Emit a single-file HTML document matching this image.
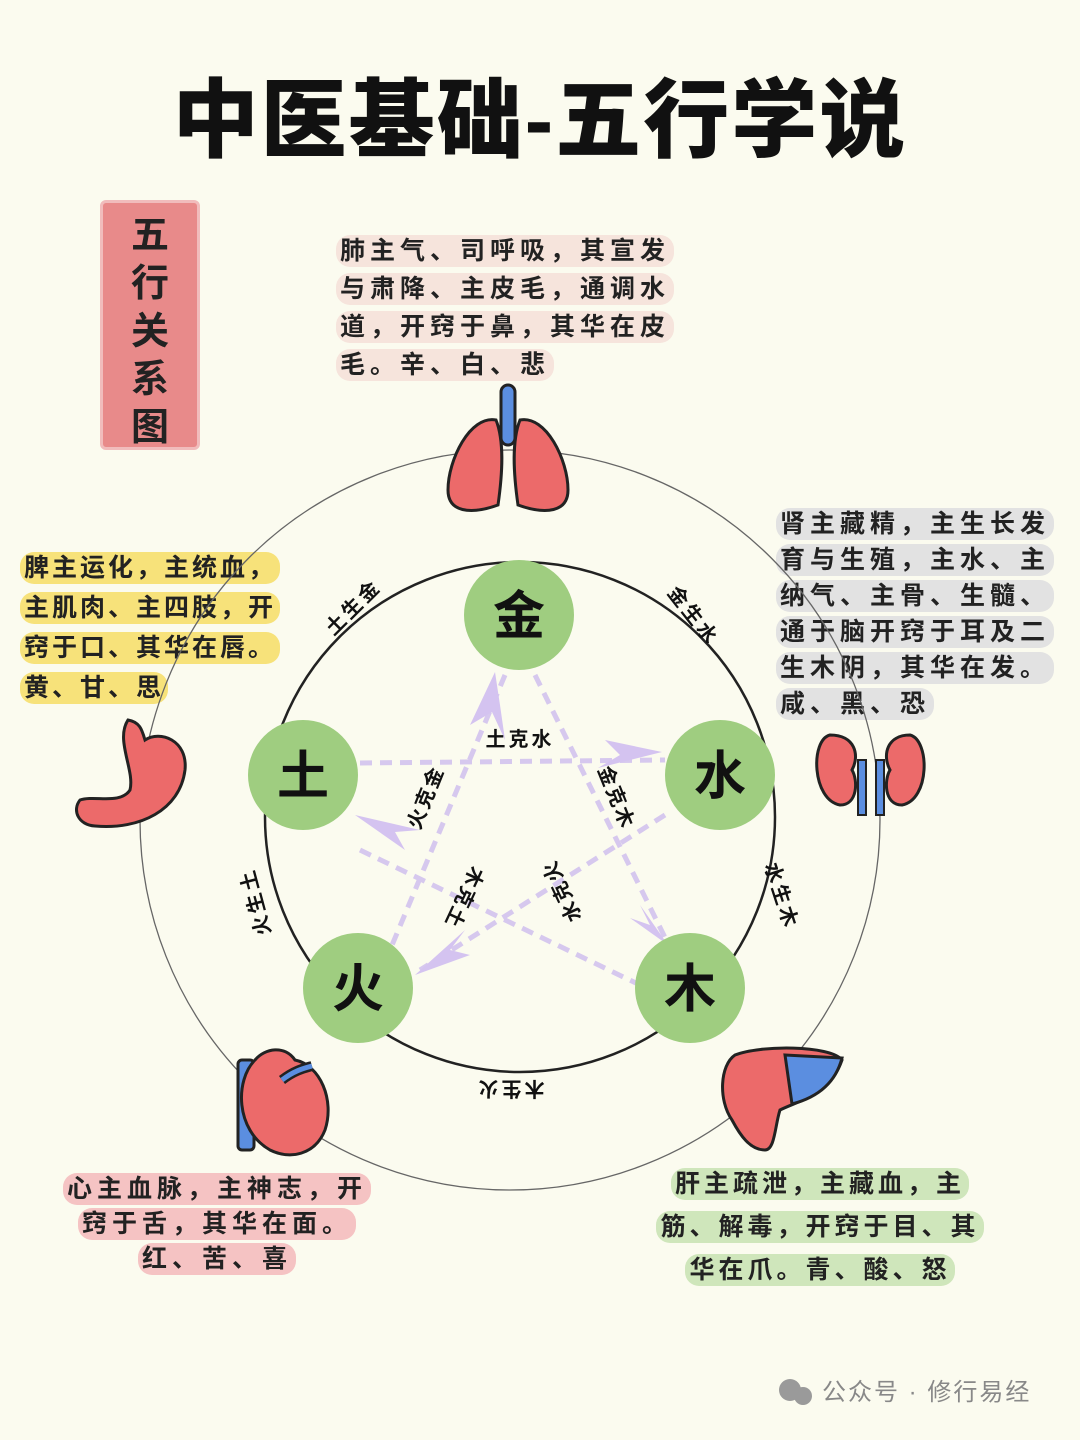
<!DOCTYPE html>
<html><head><meta charset="utf-8"><style>
body{margin:0;width:1080px;height:1440px;background:#fbfbef;overflow:hidden;font-family:"Liberation Sans","Noto Sans CJK SC",sans-serif;position:relative}
.t{position:absolute;font-size:25px;letter-spacing:5px;color:#222;font-weight:bold;white-space:nowrap}
.t span{padding:2px 4px;border-radius:14px}
.title{position:absolute;left:0;width:1080px;top:50px;text-align:center;font-size:86px;font-weight:900;color:#111;letter-spacing:2px}
</style></head><body>
<div class="title">中医基础-五行学说</div>
<div style="position:absolute;left:100px;top:200px;width:100px;height:250px;background:#e88a8a;border:3px solid #f1bcbc;box-sizing:border-box;border-radius:6px"></div>
<div style="position:absolute;left:122px;top:212px;width:56px;font-size:38px;line-height:48px;text-align:center;font-weight:bold;color:#222">五<br>行<br>关<br>系<br>图</div>

<div class="t" style="left:336px;top:232px;line-height:38px"><span style="background:#f6e4dc">肺主气、司呼吸，其宣发</span><br><span style="background:#f6e4dc">与肃降、主皮毛，通调水</span><br><span style="background:#f6e4dc">道，开窍于鼻，其华在皮</span><br><span style="background:#f6e4dc">毛。辛、白、悲</span></div>
<div class="t" style="left:776px;top:506px;line-height:36px"><span style="background:#e2e2e2">肾主藏精，主生长发</span><br><span style="background:#e2e2e2">育与生殖，主水、主</span><br><span style="background:#e2e2e2">纳气、主骨、生髓、</span><br><span style="background:#e2e2e2">通于脑开窍于耳及二</span><br><span style="background:#e2e2e2">生木阴，其华在发。</span><br><span style="background:#e2e2e2">咸、黑、恐</span></div>
<div class="t" style="left:20px;top:548px;line-height:40px;letter-spacing:3px"><span style="background:#f7e27a">脾主运化，主统血，</span><br><span style="background:#f7e27a">主肌肉、主四肢，开</span><br><span style="background:#f7e27a">窍于口、其华在唇。</span><br><span style="background:#f7e27a">黄、甘、思</span></div>
<div class="t" style="left:52px;top:1172px;width:330px;text-align:center;line-height:35px"><span style="background:#f5c3c3">心主血脉，主神志，开</span><br><span style="background:#f5c3c3">窍于舌，其华在面。</span><br><span style="background:#f5c3c3">红、苦、喜</span></div>
<div class="t" style="left:620px;top:1163px;width:400px;text-align:center;line-height:43px;letter-spacing:4px"><span style="background:#cfe6bb">肝主疏泄，主藏血，主</span><br><span style="background:#cfe6bb">筋、解毒，开窍于目、其</span><br><span style="background:#cfe6bb">华在爪。青、酸、怒</span></div>

<svg width="1080" height="1440" style="position:absolute;left:0;top:0" font-family="Liberation Sans, Noto Sans CJK SC, sans-serif">
<circle cx="510" cy="820" r="370" fill="none" stroke="#666" stroke-width="1.3"/>
<circle cx="520" cy="817" r="255" fill="none" stroke="#222" stroke-width="2.5"/>
<g stroke="#d6c8ee" stroke-width="5" stroke-dasharray="12 8" fill="none">
<line x1="535" y1="675" x2="690" y2="988"/>
<line x1="505" y1="675" x2="390" y2="950"/>
<line x1="360" y1="763" x2="665" y2="760"/>
<line x1="360" y1="850" x2="640" y2="985"/>
<line x1="665" y1="815" x2="420" y2="970"/>
</g>
<g fill="#d4c3f0">
<polygon points="495,672 470,725 492,712 505,740 500,705"/>
<polygon points="662,752 605,740 620,755 598,768"/>
<polygon points="668,945 640,905 650,925 630,918"/>
<polygon points="415,975 470,955 450,950 465,930"/>
<polygon points="355,815 405,850 395,832 420,830"/>
</g>
<g fill="#9fcd80">
<circle cx="519" cy="615" r="55"/><circle cx="303" cy="775" r="55"/><circle cx="720" cy="775" r="55"/><circle cx="358" cy="988" r="55"/><circle cx="690" cy="988" r="55"/>
</g>
<g font-size="52" font-weight="bold" text-anchor="middle" fill="#111">
<text x="519" y="634">金</text><text x="303" y="794">土</text><text x="720" y="794">水</text><text x="358" y="1007">火</text><text x="690" y="1007">木</text>
</g>
<g font-size="20" font-weight="bold" fill="#111" text-anchor="middle">
<text x="520" y="746" letter-spacing="3">土克水</text>
<text transform="translate(432,800) rotate(-68)" letter-spacing="2">火克金</text>
<text transform="translate(610,800) rotate(68)" letter-spacing="2">金克木</text>
<text transform="translate(568,888) rotate(-115)" letter-spacing="2">水克火</text>
<text transform="translate(458,895) rotate(115)" letter-spacing="2">木克土</text>
<text transform="translate(358,612) rotate(-45)" letter-spacing="3">土生金</text>
<text transform="translate(688,620) rotate(52)" letter-spacing="3">金生水</text>
<text transform="translate(775,898) rotate(72)" letter-spacing="3">水生木</text>
<text transform="translate(510,1082) rotate(180)" letter-spacing="3">木生火</text>
<text transform="translate(262,900) rotate(-105)" letter-spacing="3">火生土</text>
</g>
<rect x="501" y="385" width="14" height="60" rx="7" fill="#5b8ee0" stroke="#222" stroke-width="3"/>
<path d="M496,420 C470,415 448,460 448,490 C448,512 470,515 498,505 C503,470 504,440 496,420Z" fill="#ec6a6a" stroke="#222" stroke-width="3"/>
<path d="M520,420 C546,415 568,460 568,490 C568,512 546,515 518,505 C513,470 512,440 520,420Z" fill="#ec6a6a" stroke="#222" stroke-width="3"/>
<path d="M830,735 C810,740 812,800 840,805 C858,805 858,780 852,770 C860,755 855,735 830,735Z" fill="#ec6a6a" stroke="#222" stroke-width="3"/>
<path d="M910,735 C930,740 930,800 902,805 C884,805 884,780 890,770 C882,755 887,735 910,735Z" fill="#ec6a6a" stroke="#222" stroke-width="3"/>
<rect x="858" y="760" width="8" height="55" fill="#5b8ee0" stroke="#222" stroke-width="2"/>
<rect x="876" y="760" width="8" height="55" fill="#5b8ee0" stroke="#222" stroke-width="2"/>
<path d="M128,720 C115,740 135,770 130,790 C120,805 95,795 80,800 C72,810 78,825 95,826 C140,830 180,810 185,770 C188,740 160,730 145,740 C142,730 140,722 128,720Z" fill="#ec6a6a" stroke="#222" stroke-width="3"/>
<rect x="238" y="1060" width="16" height="90" rx="4" fill="#5b8ee0" stroke="#222" stroke-width="3"/>
<path d="M255,1060 C235,1080 235,1130 270,1150 C290,1160 315,1155 325,1130 C335,1100 320,1065 295,1060 C285,1045 265,1048 255,1060Z" fill="#ec6a6a" stroke="#222" stroke-width="3"/>
<path d="M282,1080 C295,1070 305,1068 312,1066" stroke="#222" stroke-width="10" fill="none"/>
<path d="M282,1080 C295,1070 305,1068 312,1066" stroke="#5b8ee0" stroke-width="5" fill="none"/>
<path d="M735,1055 C720,1065 718,1100 732,1120 C740,1135 750,1150 765,1150 C775,1150 775,1125 780,1110 C800,1100 830,1095 842,1060 C830,1045 760,1045 735,1055Z" fill="#ec6a6a" stroke="#222" stroke-width="3"/>
<path d="M785,1055 L842,1058 C835,1085 815,1098 792,1104Z" fill="#5b8ee0" stroke="#222" stroke-width="3"/>
<circle cx="790" cy="1390" r="11" fill="#9a9a9a"/><circle cx="803" cy="1396" r="9" fill="#9a9a9a"/>
<text x="822" y="1400" font-size="24" fill="#888" letter-spacing="2">公众号 · 修行易经</text>
</svg>
</body></html>
